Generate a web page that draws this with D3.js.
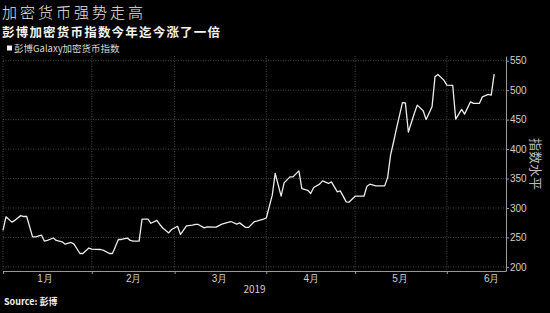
<!DOCTYPE html>
<html>
<head>
<meta charset="utf-8">
<script src="https://cdn.jsdelivr.net/npm/d3@7"></script>
<style>
	body { margin: 0; background: #000; }
	svg { display: block; font-family: "Noto Sans CJK SC", "Noto Sans", sans-serif; }
	.grid line { stroke: #5a5a5a; stroke-width: 0.8; stroke-dasharray: 1 1.5; }
	.axis path, .axis line { stroke: #9a9a9a; }
	.axis text { fill: #d0d0d0; font-size: 10px; }
</style>
</head>
<body>
<div id="chart"></div>
<script>
const dates = ["2019-01-02","2019-01-03","2019-01-05","2019-01-06","2019-01-08","2019-01-09","2019-01-10","2019-01-12","2019-01-13","2019-01-15","2019-01-16","2019-01-17","2019-01-19","2019-01-20","2019-01-22","2019-01-23","2019-01-25","2019-01-26","2019-01-28","2019-01-29","2019-01-31",
	"2019-02-01","2019-02-04","2019-02-05","2019-02-07","2019-02-08","2019-02-10","2019-02-11","2019-02-13","2019-02-14","2019-02-15","2019-02-17","2019-02-18","2019-02-20","2019-02-21","2019-02-23","2019-02-24","2019-02-25","2019-02-27","2019-02-28",
	"2019-03-02","2019-03-03","2019-03-05","2019-03-07","2019-03-08","2019-03-09","2019-03-11","2019-03-12","2019-03-14","2019-03-15","2019-03-17","2019-03-19","2019-03-20","2019-03-22","2019-03-23","2019-03-25","2019-03-26","2019-03-28","2019-03-29","2019-03-31",
	"2019-04-01","2019-04-03","2019-04-04","2019-04-06","2019-04-07","2019-04-09","2019-04-10","2019-04-12","2019-04-13","2019-04-15","2019-04-16","2019-04-17","2019-04-19","2019-04-20","2019-04-22","2019-04-23","2019-04-25","2019-04-26","2019-04-28","2019-04-29",
	"2019-05-01","2019-05-02","2019-05-04","2019-05-05","2019-05-06","2019-05-08","2019-05-09","2019-05-11","2019-05-12","2019-05-13","2019-05-14","2019-05-15","2019-05-17","2019-05-18","2019-05-19","2019-05-21","2019-05-22","2019-05-24","2019-05-25","2019-05-27","2019-05-28","2019-05-29","2019-05-31",
	"2019-06-01","2019-06-03","2019-06-04","2019-06-06","2019-06-07","2019-06-09","2019-06-10","2019-06-12","2019-06-13","2019-06-15","2019-06-16","2019-06-17"];

const values = [262, 285, 276, 279, 287, 285.5, 285.5, 251, 251, 254, 243.6, 245, 249, 244.8, 242.5, 238.6, 241.4, 238.6, 222.7, 222.7, 232,
	230, 229.5, 228, 222.7, 222.7, 246.5, 246.5, 249, 245, 243.6, 243.6, 281, 281, 274, 279, 272, 266, 257.7, 263.5,
	269, 255, 269.6, 271, 272, 272, 266.2, 268, 267.4, 267.4, 272.5, 275.4, 277, 272.5, 274.7, 267, 267, 277, 278, 281,
	283, 321.7, 358.6, 320, 342.6, 352.8, 352.8, 363, 333, 330, 324.6, 334.8, 340.4, 346, 341.6, 344.3, 327.4, 329, 310.4, 310,
	320, 320, 320, 337, 340.4, 337.5, 337.5, 337.5, 352, 390, 412, 435, 479, 478.5, 429, 460.5, 474.6, 465, 450.3, 471.7, 522.6, 526.7, 517,
	508.5, 508, 450.8, 467.3, 459.3, 480.2, 477.5, 477.5, 488.7, 492.7, 491.5, 527.2];

const yTicks = [200, 250, 300, 350, 400, 450, 500, 550];
const monthStarts = ["2019-02-01", "2019-03-01", "2019-04-01", "2019-05-01", "2019-06-01"];
const monthLabels = ["1月", "2月", "3月", "4月", "5月", "6月"];
const monthMids = ["2019-01-16", "2019-02-15", "2019-03-16", "2019-04-16", "2019-05-16", "2019-06-16"];

const title = "加密货币强势走高";
const subtitle = "彭博加密货币指数今年迄今涨了一倍";
const legendLabel = "彭博Galaxy加密货币指数";
const yTitle = "指数水平";
const yearLabel = "2019";
const source = "Source: 彭博";

const width = 550, height = 313;
const margin = { top: 56, right: 44, bottom: 42, left: 3 };
const parse = d3.timeParse("%Y-%m-%d");

const data = dates.map((d, i) => ({ date: parse(d), value: values[i] }));

const svg = d3.select("#chart").append("svg")
	.attr("width", width)
	.attr("height", height)
	.attr("viewBox", [0, 0, width, height]);

const x = d3.scaleTime()
	.domain([parse("2019-01-02"), parse("2019-06-21")])
	.range([margin.left, width - margin.right]);

const y = d3.scaleLinear()
	.domain([193, 558])
	.range([height - margin.bottom, margin.top]);

// grid
const grid = svg.append("g").attr("class", "grid");
grid.selectAll("line.h").data(yTicks).join("line")
	.attr("class", "h")
	.attr("x1", x.range()[0]).attr("x2", x.range()[1])
	.attr("y1", d => y(d)).attr("y2", d => y(d));
grid.selectAll("line.v").data([x.domain()[0]].concat(monthStarts.map(parse))).join("line")
	.attr("class", "v")
	.attr("x1", d => x(d)).attr("x2", d => x(d))
	.attr("y1", y.range()[1]).attr("y2", y.range()[0]);

// axes
svg.append("g").attr("class", "axis")
	.attr("transform", `translate(0, ${y.range()[0]})`)
	.call(d3.axisBottom(x)
		.tickValues([x.domain()[0]].concat(monthStarts.map(parse)))
		.tickFormat("")
		.tickSizeInner(3).tickSizeOuter(0));

svg.append("g").attr("class", "axis")
	.attr("transform", `translate(0, ${y.range()[0]})`)
	.call(d3.axisBottom(x)
		.tickValues(monthMids.map(parse))
		.tickFormat((d, i) => monthLabels[i])
		.tickSize(0).tickPadding(4))
	.call(g => g.select(".domain").remove());

svg.append("g").attr("class", "axis")
	.attr("transform", `translate(${x.range()[1]}, 0)`)
	.call(d3.axisRight(y)
		.tickValues(yTicks)
		.tickSizeInner(3).tickSizeOuter(0).tickPadding(1));

// line
svg.append("path")
	.datum(data)
	.attr("fill", "none")
	.attr("stroke", "#ececec")
	.attr("stroke-width", 1.3)
	.attr("stroke-linejoin", "round")
	.attr("d", d3.line().x(d => x(d.date)).y(d => y(d.value)));

// texts
svg.append("text").attr("x", 2).attr("y", 17.8)
	.attr("fill", "#e6e6e6").attr("font-size", 15).attr("font-weight", 300)
	.attr("letter-spacing", 3)
	.text(title);
svg.append("text").attr("x", 2).attr("y", 36.8)
	.attr("fill", "#f2f2f2").attr("font-size", 12.5).attr("font-weight", 700)
	.attr("letter-spacing", 1.2)
	.text(subtitle);

svg.append("rect").attr("x", 7).attr("y", 45.5).attr("width", 5).attr("height", 5).attr("fill", "#f0f0f0");
svg.append("text").attr("x", 14).attr("y", 51.5)
	.attr("fill", "#d8d8d8").attr("font-size", 9.5)
	.text(legendLabel);

svg.append("text")
	.attr("transform", `translate(530.5, 164) rotate(90)`)
	.attr("text-anchor", "middle")
	.attr("fill", "#bdbdbd").attr("font-size", 13)
	.text(yTitle);

svg.append("text")
	.attr("x", (x.range()[0] + x.range()[1]) / 2).attr("y", 293)
	.attr("text-anchor", "middle")
	.attr("fill", "#d0d0d0").attr("font-size", 10)
	.text(yearLabel);

svg.append("text").attr("x", 4).attr("y", 305)
	.attr("fill", "#f0f0f0").attr("font-size", 9).attr("font-weight", 700)
	.text(source);
</script>
</body>
</html>
